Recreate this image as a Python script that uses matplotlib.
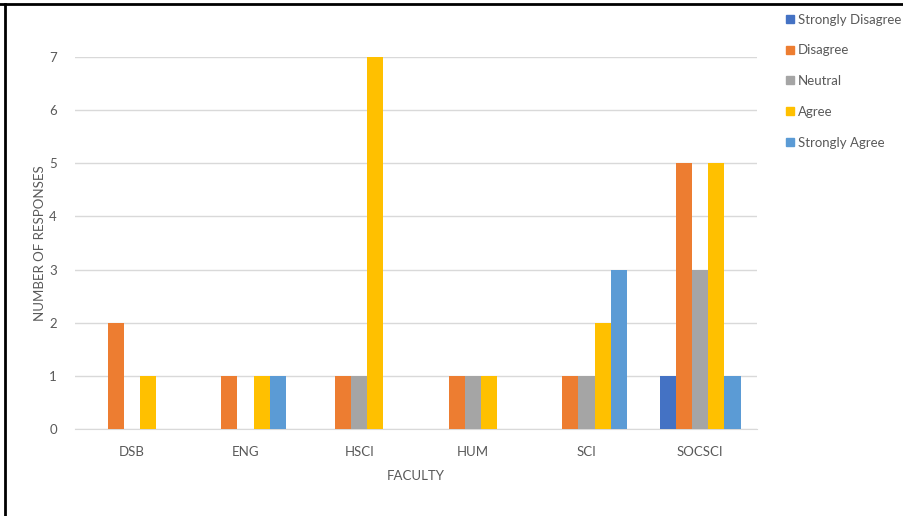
import matplotlib
matplotlib.use("Agg")
import matplotlib.pyplot as plt
from matplotlib.lines import Line2D
import numpy as np

faculties = ["DSB", "ENG", "HSCI", "HUM", "SCI", "SOCSCI"]
strongly_disagree = [0, 0, 0, 0, 0, 1]
disagree = [2, 1, 1, 1, 1, 5]
neutral = [0, 0, 1, 1, 1, 3]
agree = [1, 1, 7, 1, 2, 5]
strongly_agree = [0, 1, 0, 0, 3, 1]

series_names = ["Strongly Disagree", "Disagree", "Neutral", "Agree", "Strongly Agree"]
series_values = [strongly_disagree, disagree, neutral, agree, strongly_agree]
colors = ["#4472C4", "#ED7D31", "#A5A5A5", "#FFC000", "#5B9BD5"]

plt.rcParams["font.family"] = ["Lato", "DejaVu Sans"]

W, H = 904, 516
fig = plt.figure(figsize=(W / 100, H / 100), dpi=100)
ax = fig.add_axes([75 / W, 1 - 429 / H, (757 - 75) / W, (429 - 57) / H])

x = np.arange(len(faculties))
bw = 0.142
for i, (vals, c) in enumerate(zip(series_values, colors)):
    ax.bar(x + (i - 2) * bw, vals, width=bw, color=c, zorder=3)

ax.set_xlim(-0.5, len(faculties) - 0.5)
ax.set_ylim(0, 7)
ax.set_yticks(range(8))
ax.set_xticks(x)
ax.set_xticklabels(faculties)
ax.grid(axis="y", color="#D9D9D9", linewidth=1, zorder=0)
for s in ["top", "right", "left"]:
    ax.spines[s].set_visible(False)
ax.spines["bottom"].set_color("#D9D9D9")
ax.tick_params(axis="both", length=0, colors="#595959", labelsize=9.5)
ax.tick_params(axis="x", pad=12)
ax.tick_params(axis="y", pad=13)
ax.set_xlabel("FACULTY", color="#595959", fontsize=9.5, labelpad=9)
ax.set_ylabel("NUMBER OF RESPONSES", color="#595959", fontsize=9.5, labelpad=2)

handles = [Line2D([], [], marker="s", linestyle="none", markersize=6,
                  markerfacecolor=c, markeredgecolor=c) for c in colors]
fig.legend(handles, series_names, loc="upper left", bbox_to_anchor=(778 / W, 1 - 7 / H),
           frameon=False, fontsize=9.5, labelcolor="#595959", handlelength=0.8,
           handletextpad=0.2, labelspacing=1.42, borderpad=0)

# page frame lines
fig.add_artist(Line2D([0, 1], [1 - 3.5 / H, 1 - 3.5 / H], color="black", linewidth=2,
                      transform=fig.transFigure))
fig.add_artist(Line2D([5.5 / W, 5.5 / W], [0, 1 - 3.5 / H], color="black", linewidth=2,
                      transform=fig.transFigure))

fig.savefig("out.png", dpi=100)
